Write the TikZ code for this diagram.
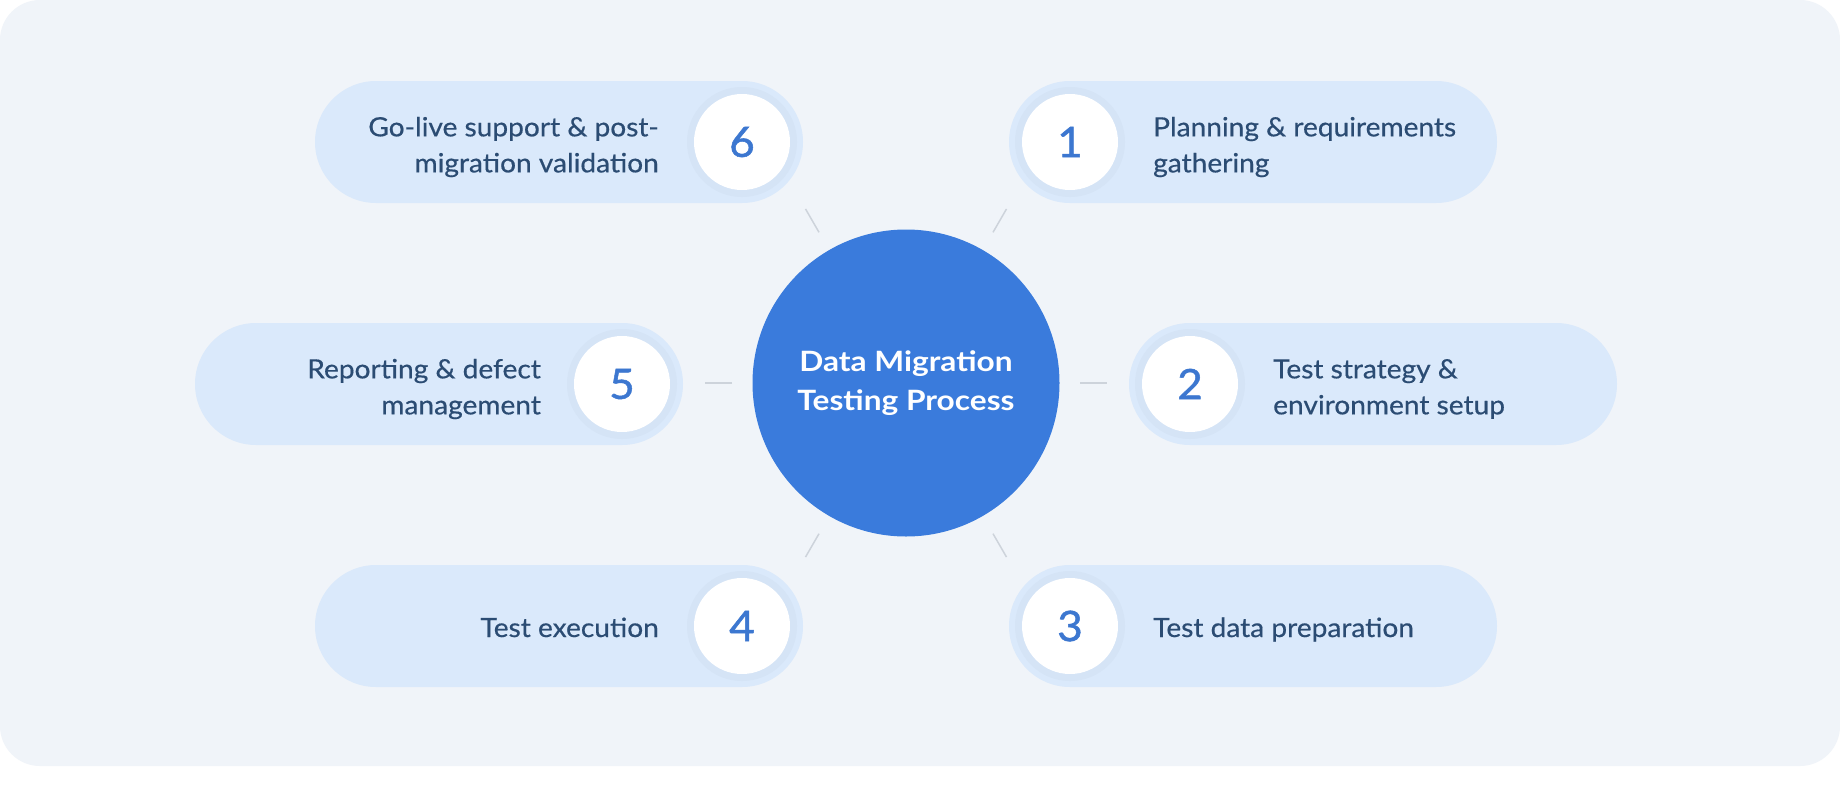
\documentclass[tikz,border=0pt]{standalone}
\usepackage{fontspec}
\setmainfont{Lato}
\newfontfamily\lblfont{Lato}[FakeStretch=1.06, FakeBold=0.5]
\newfontfamily\numfont{Lato}[FakeStretch=1.05, FakeBold=1.2]
\newfontfamily\hubfont{Lato}[FakeStretch=1.13]
\usetikzlibrary{calc}
\definecolor{bgpanel}{HTML}{F0F4F9}
\definecolor{pillfill}{HTML}{DAE9FB}
\definecolor{ringfill}{HTML}{D5E4F6}
\definecolor{txtnavy}{HTML}{2B4C73}
\definecolor{numblue}{HTML}{3C77D0}
\definecolor{hubblue}{HTML}{3A7BDC}
\definecolor{conngrey}{HTML}{CDD3DB}
\begin{document}
\begin{tikzpicture}[x=1pt,y=-1pt,
  pill/.style={rectangle, rounded corners=61pt, fill=pillfill, minimum width=488pt, minimum height=122pt, inner sep=0pt},
  ring/.style={circle, fill=ringfill, minimum size=110pt, inner sep=0pt},
  numcirc/.style={circle, fill=white, minimum size=96pt, inner sep=0pt, text=numblue, font=\numfont\fontsize{42}{42}\selectfont},
  lbl/.style={text=txtnavy, font=\lblfont\fontsize{26.5}{36}\selectfont, inner sep=0pt},
  conn/.style={draw=conngrey, line width=1.5pt}
]
\useasboundingbox (0,0) rectangle (1840,809);
\fill[white] (0,0) rectangle (1840,809);
\fill[bgpanel, rounded corners=40pt] (0,0) rectangle (1840,766);

% hub
\node[circle, fill=hubblue, minimum size=307pt, inner sep=0pt, text=white,
  font=\hubfont\fontsize{28}{39}\selectfont\bfseries, align=center] (c) at (906,383)
  {Data Migration\\Testing Process};

% pills
\node[pill] (p1) at (1253,142) {};
\node[pill] (p2) at (1373,384) {};
\node[pill] (p3) at (1253,626) {};
\node[pill] (p4) at (559,626) {};
\node[pill] (p5) at (439,384) {};
\node[pill] (p6) at (559,142) {};

% rings
\node[ring] (r1) at (1070,142) {};
\node[ring] (r2) at (1190,384) {};
\node[ring] (r3) at (1070,626) {};
\node[ring] (r4) at (742,626) {};
\node[ring] (r5) at (622,384) {};
\node[ring] (r6) at (742,142) {};

% numbers
\node[numcirc] (n1) at (r1) {1};
\node[numcirc] (n2) at (r2) {2};
\node[numcirc] (n3) at (r3) {3};
\node[numcirc] (n4) at (r4) {4};
\node[numcirc] (n5) at (r5) {5};
\node[numcirc] (n6) at (r6) {6};

% labels
\node[lbl, align=left, anchor=west] (t1) at (1153,147) {Planning \& requirements\\gathering};
\node[lbl, align=left, anchor=west] (t2) at (1273,389) {Test strategy \&\\environment setup};
\node[lbl, anchor=base west] (t3) at (1153,637) {Test data preparation};
\node[lbl, anchor=base east] (t4) at (659,637) {Test execution};
\node[lbl, align=right, anchor=east] (t5) at (541,389) {Reporting \& defect\\management};
\node[lbl, align=right, anchor=east] (t6) at (659,147) {Go-live support \& post-\\migration validation};

% connectors (radial ticks)
\foreach \a in {0,-60,-120,180,120,60}{
  \draw[conn] ($(c.center)+(\a:174)$) -- ($(c.center)+(\a:201)$);
}
\end{tikzpicture}
\end{document}
